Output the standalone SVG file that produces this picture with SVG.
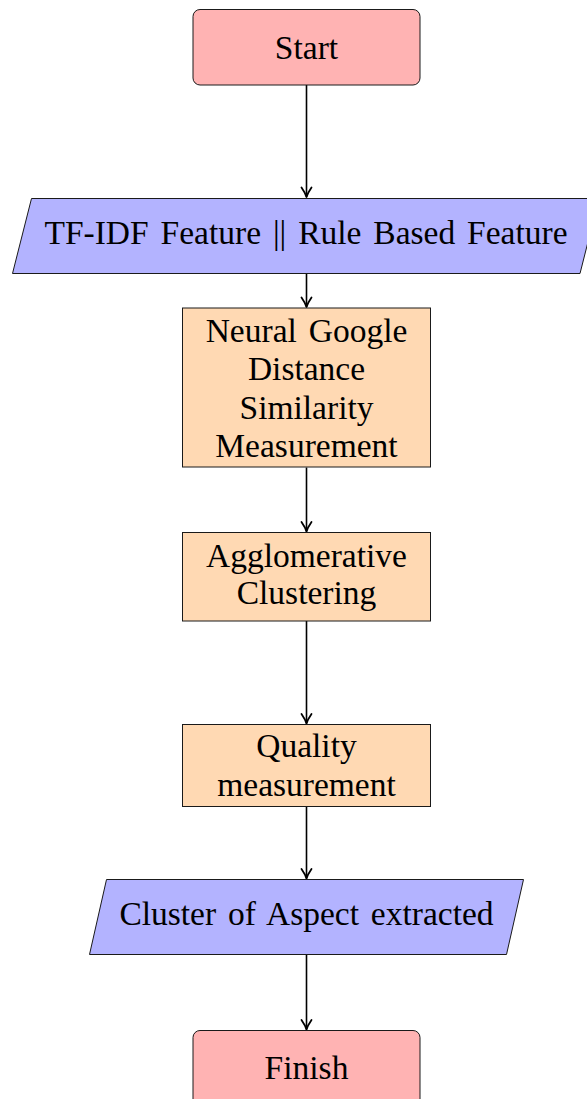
<svg xmlns="http://www.w3.org/2000/svg" width="587" height="1099" viewBox="0 0 587 1099">
  <style>
    .term { fill: #FFB3B3; stroke: #1a1a1a; stroke-width: 1; }
    .io { fill: #B3B3FF; stroke: #1a1a1a; stroke-width: 1; }
    .proc { fill: #FFD9B3; stroke: #1a1a1a; stroke-width: 1; }
    text { font-family: 'Liberation Serif', 'Times New Roman', 'DejaVu Serif', serif; font-size: 33.5px; fill: #000; text-anchor: middle; word-spacing: 3.5px; }
    .edge { stroke: #000; stroke-width: 1.6; fill: none; }
  </style>
  <defs>
    <marker id="arrow" viewBox="-12 -7 14 14" refX="0" refY="0" markerWidth="14" markerHeight="14" markerUnits="userSpaceOnUse" orient="auto">
      <path d="M-9.5,-5 Q-4,-1.2 0,0 Q-4,1.2 -9.5,5" fill="none" stroke="#000" stroke-width="1.8" stroke-linecap="round" stroke-linejoin="round"/>
    </marker>
  </defs>

  <!-- connectors -->
  <g id="connectors">
    <line class="edge" x1="306.5" y1="85" x2="306.5" y2="197" marker-end="url(#arrow)"/>
    <line class="edge" x1="306.5" y1="273.5" x2="306.5" y2="307" marker-end="url(#arrow)"/>
    <line class="edge" x1="306.5" y1="467.5" x2="306.5" y2="531.5" marker-end="url(#arrow)"/>
    <line class="edge" x1="306.5" y1="621" x2="306.5" y2="723.5" marker-end="url(#arrow)"/>
    <line class="edge" x1="306.5" y1="807" x2="306.5" y2="878.5" marker-end="url(#arrow)"/>
    <line class="edge" x1="306.5" y1="954" x2="306.5" y2="1029.5" marker-end="url(#arrow)"/>
  </g>

  <g id="start">
    <rect class="term" x="193" y="9.5" width="227" height="75.5" rx="7" ry="7"/>
    <text x="306.5" y="58.5">Start</text>
  </g>

  <g id="features">
    <polygon class="io" points="31.5,198.5 599,198.5 580,273.5 12.5,273.5"/>
    <text x="306" y="243.5">TF-IDF Feature || Rule Based Feature</text>
  </g>

  <g id="ngd">
    <rect class="proc" x="182.5" y="308" width="248" height="159"/>
    <text x="306.5" y="341.5">Neural Google</text>
    <text x="306.5" y="380">Distance</text>
    <text x="306.5" y="418.5">Similarity</text>
    <text x="306.5" y="457">Measurement</text>
  </g>

  <g id="clustering">
    <rect class="proc" x="182.5" y="532.5" width="248" height="88.5"/>
    <text x="306.5" y="566.5">Agglomerative</text>
    <text x="306.5" y="604">Clustering</text>
  </g>

  <g id="quality">
    <rect class="proc" x="182.5" y="724.5" width="248" height="82"/>
    <text x="306.5" y="757">Quality</text>
    <text x="306.5" y="795.5">measurement</text>
  </g>

  <g id="aspects">
    <polygon class="io" points="106.5,879.5 523.5,879.5 506.5,954.5 89.5,954.5"/>
    <text x="306.5" y="925">Cluster of Aspect extracted</text>
  </g>

  <g id="finish">
    <rect class="term" x="193" y="1030.5" width="227" height="75.5" rx="7" ry="7"/>
    <text x="306.5" y="1079">Finish</text>
  </g>
</svg>
